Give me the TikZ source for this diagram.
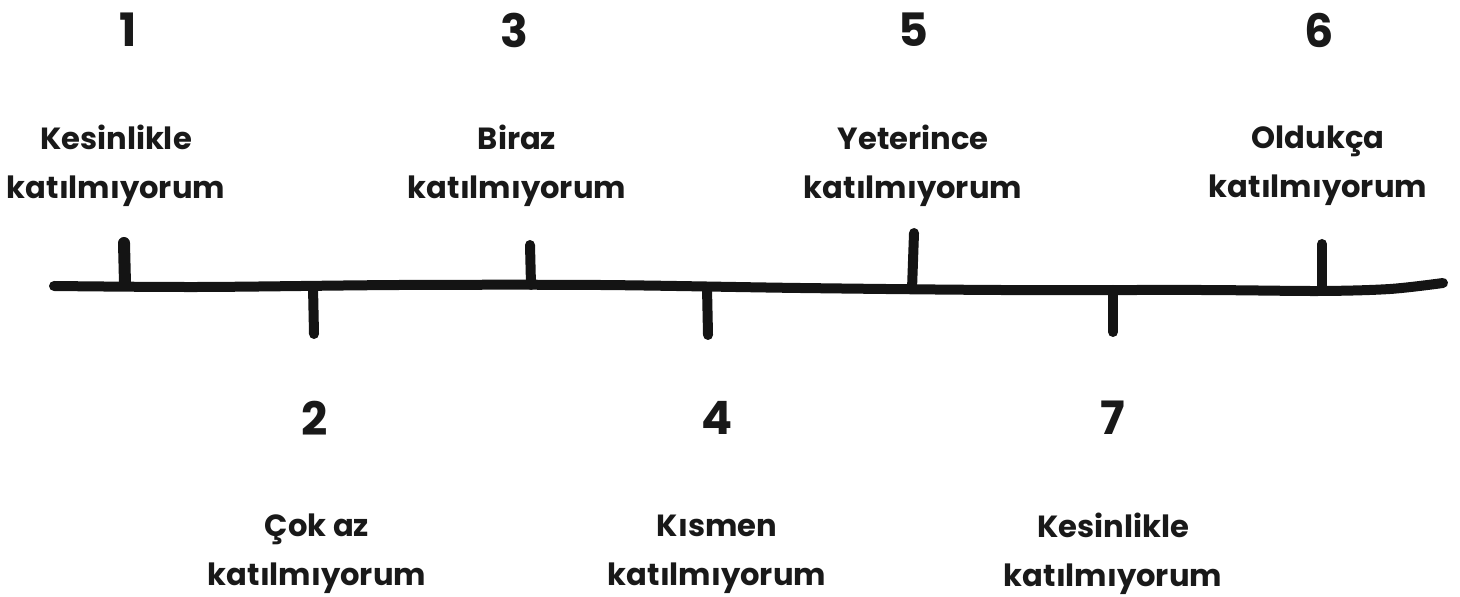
\documentclass[tikz,border=0pt]{standalone}
\usepackage{fontspec}
\setmainfont{Poppins}
\begin{document}
\begin{tikzpicture}[x=0.5pt,y=-0.5pt,
  num/.style={font=\fontsize{23}{28}\selectfont\bfseries, text=black!90, inner sep=0pt},
  lab/.style={font=\fontsize{15.3}{24.5}\selectfont\bfseries, text=black!90, align=center, inner sep=0pt},
  axis/.style={line width=5pt, line cap=round, draw=black!92},
  tick/.style={line width=5pt, line cap=round, draw=black!92}]
\useasboundingbox (0,0) rectangle (1460,597);
% numbers
\node[num] (n1) at (128,30) {1};
\node[num] (n3) at (514,30) {3};
\node[num] (n5) at (913,30) {5};
\node[num] (n6) at (1319,30) {6};
\node[num] (n2) at (315,418) {2};
\node[num] (n4) at (717,418) {4};
\node[num] (n7) at (1113,418) {7};
% labels
\node[lab] (t1) at (116,166) {Kesinlikle\\katılmıyorum};
\node[lab] (t3) at (517,166) {Biraz\\katılmıyorum};
\node[lab] (t5) at (913,166) {Yeterince\\katılmıyorum};
\node[lab] (t6) at (1318,166) {Oldukça\\katılmıyorum};
\node[lab] (t2) at (317,554) {Çok az\\katılmıyorum};
\node[lab] (t4) at (717,554) {Kısmen\\katılmıyorum};
\node[lab] (t7) at (1113,554) {Kesinlikle\\katılmıyorum};
% axis
\coordinate (a0) at (54,286);
\coordinate (a1) at (200,287);
\coordinate (a2) at (400,285);
\coordinate (a3) at (600,285);
\coordinate (a4) at (800,288);
\coordinate (a5) at (1000,290);
\coordinate (a6) at (1200,290);
\coordinate (a7) at (1320,291);
\coordinate (a8) at (1390,289);
\coordinate (a9) at (1443,283);
\draw[axis] plot[smooth, tension=0.5] coordinates {(a0) (a1) (a2) (a3) (a4) (a5) (a6) (a7) (a8) (a9)};
% ticks
\coordinate (k1t) at (124,243); \coordinate (k1b) at (125,284);
\coordinate (k2t) at (313,287); \coordinate (k2b) at (314,334);
\coordinate (k3t) at (530,245); \coordinate (k3b) at (531,285);
\coordinate (k4t) at (707,288); \coordinate (k4b) at (708,335);
\coordinate (k5t) at (914,233); \coordinate (k5b) at (912,289);
\coordinate (k6t) at (1322,244); \coordinate (k6b) at (1322,290);
\coordinate (k7t) at (1113,290); \coordinate (k7b) at (1113,332);
\draw[tick, line width=6pt] (k1t) -- (k1b);
\draw[tick] (k2t) -- (k2b);
\draw[tick] (k3t) -- (k3b);
\draw[tick] (k4t) -- (k4b);
\draw[tick] (k5t) -- (k5b);
\draw[tick] (k6t) -- (k6b);
\draw[tick] (k7t) -- (k7b);
\end{tikzpicture}
\end{document}
